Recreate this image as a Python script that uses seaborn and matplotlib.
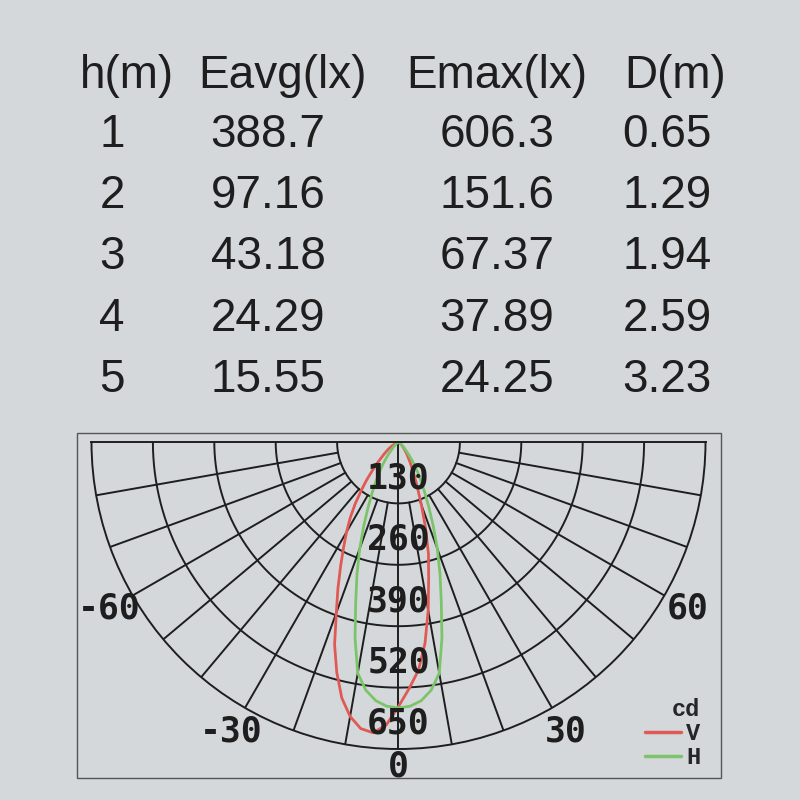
import numpy as np
import matplotlib
matplotlib.use("Agg")
import matplotlib.pyplot as plt
from matplotlib.patches import Rectangle
import seaborn as sns

# table values
heights = [1, 2, 3, 4, 5]
e_avg = [388.7, 97.16, 43.18, 24.29, 15.55]
e_max = [606.3, 151.6, 67.37, 37.89, 24.25]
dist = [0.65, 1.29, 1.94, 2.59, 3.23]
headers = ["h(m)", "Eavg(lx)", "Emax(lx)", "D(m)"]

# polar curve, V plane (red) and H plane (green), angle in degrees, intensity in cd
v_ang = [-90, -75, -60, -55, -50, -45, -42.5, -40, -37.5, -35, -32.5, -30, -27.5, -25, -22.5,
         -20, -17.5, -15, -12.5, -10, -7.5, -5, -2.5, 0, 2.5, 5, 7.5, 10, 12.5, 15, 17.5,
         20, 22.5, 25, 27.5, 30, 35, 40, 45, 50, 60, 90]
v_cd = [0, 2, 15, 26, 40, 65, 82, 105, 130, 160, 190, 220, 252, 290, 335,
        385, 450, 505, 555, 590, 612, 618, 600, 560, 522, 485, 430, 362, 295, 245, 190,
        142, 105, 80, 62, 48, 30, 18, 10, 6, 0, 0]
h_ang = [-90, -60, -50, -45, -40, -37.5, -35, -32.5, -30, -27.5, -25, -22.5, -20, -17.5, -15,
         -12.5, -10, -7.5, -5, -2.5, 0, 2.5, 5, 7.5, 10, 12.5, 15, 17.5, 20, 22.5, 25,
         27.5, 30, 32.5, 35, 37.5, 40, 45, 50, 60, 90]
h_cd = [0, 0, 6, 15, 30, 42, 58, 75, 95, 120, 152, 192, 240, 292, 350,
        425, 497, 530, 550, 560, 563, 560, 550, 530, 497, 425, 350, 292, 240, 192, 152,
        120, 95, 75, 58, 42, 30, 15, 6, 0, 0]

rings = [130, 260, 390, 520, 650]
angle_ticks = [-60, -30, 0, 30, 60]

bg = "#d5d8db"
ink = "#1e1e1e"

sns.set_style("white")
plt.rcParams["font.family"] = ["Liberation Sans", "DejaVu Sans"]

fig = plt.figure(figsize=(8, 8), dpi=100, facecolor=bg)

# table at the top
col_head_x = [127, 283, 497, 675]
col_x = [112, 268, 497, 667]
for j, h in enumerate(headers):
    fig.text(col_head_x[j] / 800, 1 - 76 / 800, h, ha="center", va="center",
             fontsize=33, color=ink)
for i in range(len(heights)):
    y = 1 - (135 + 61.2 * i) / 800
    row = [str(heights[i]), str(e_avg[i]), str(e_max[i]), str(dist[i])]
    for j, s in enumerate(row):
        fig.text(col_x[j] / 800, y, s, ha="center", va="center", fontsize=33, color=ink)

# frame around the diagram
fig.patches.append(Rectangle((77 / 800, 1 - 778 / 800), 644 / 800, 345 / 800,
                             transform=fig.transFigure, fill=False, edgecolor="#555555",
                             linewidth=1.0))

# the half-disc wedge is drawn at half the axes box, so the box is doubled
R = 307
cx, cy = 398.5, 442
mid_y = cy + R / 2
ax = fig.add_axes([(cx - 2 * R) / 800, (800 - mid_y - R) / 800, 4 * R / 800, 2 * R / 800],
                  projection="polar")
ax.set_facecolor(bg)
ax.set_theta_zero_location("S")
ax.set_theta_direction(1)
ax.set_thetamin(-90)
ax.set_thetamax(90)
ax.set_rlim(0, 650)
ax.grid(False)
ax.set_xticks([])
ax.set_yticks([])
for name, sp in ax.spines.items():
    sp.set_color(ink)
    sp.set_linewidth(1.4)

gc = ink
lw = 1.4
arc = np.linspace(-np.pi / 2, np.pi / 2, 300)
for r in rings[:-1]:
    ax.plot(arc, np.full_like(arc, r), color=gc, lw=lw)
for a in range(-80, 90, 10):
    if a == 0:
        ax.plot([0, 0], [0, 650], color=gc, lw=lw)
    else:
        ax.plot(np.radians([a, a]), [130, 650], color=gc, lw=lw)

sns.lineplot(x=np.radians(v_ang), y=v_cd, ax=ax, sort=False, color="#e05a55", lw=2.0,
             label="V")
sns.lineplot(x=np.radians(h_ang), y=h_cd, ax=ax, sort=False, color="#7cc46a", lw=2.0,
             label="H")

# ring labels
for r in rings:
    ax.text(0, r - 53, str(r), ha="center", va="center", fontsize=25, fontweight="bold",
            family="DejaVu Sans Mono", color=ink)
# angle labels
for a in angle_ticks:
    rr = 688 if a == 0 else 707
    ax.text(np.radians(a), rr, str(a), ha="center", va="center", fontsize=25,
            fontweight="bold", family="DejaVu Sans Mono", color=ink, clip_on=False)

leg = ax.legend(loc="lower right", bbox_to_anchor=(712 / 800, 1 - 781 / 800),
                bbox_transform=fig.transFigure, frameon=False, title="cd",
                alignment="right", handlelength=1.55, handletextpad=0.2,
                labelspacing=0.05, borderpad=0,
                prop={"family": "Liberation Mono", "weight": "bold", "size": 17},
                title_fontproperties={"family": "Liberation Mono", "weight": "bold",
                                      "size": 17})
for line in leg.get_lines():
    line.set_linewidth(2.5)

fig.savefig("out.png", dpi=100, facecolor=bg)
